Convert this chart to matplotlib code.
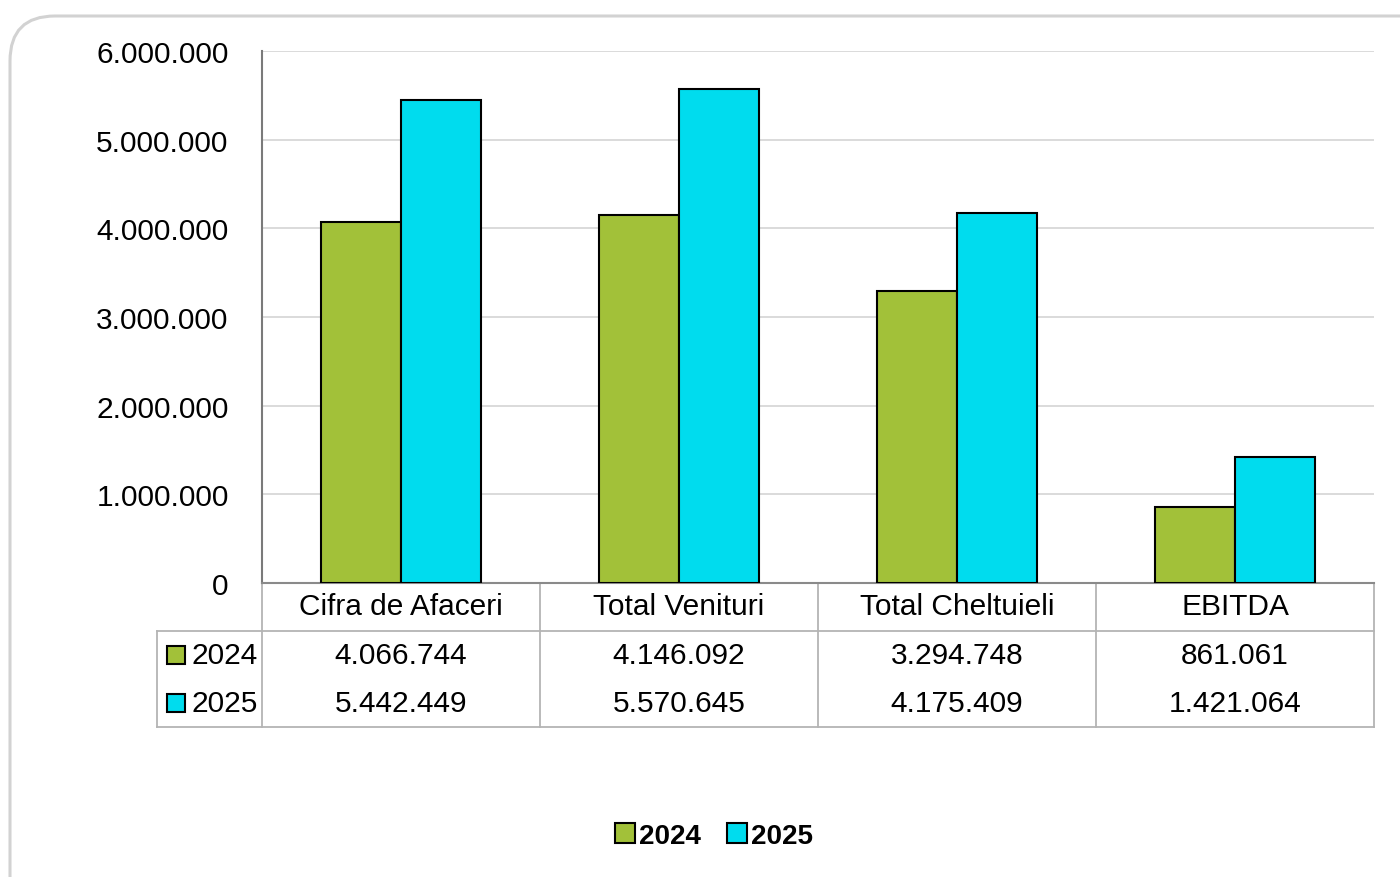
import matplotlib.pyplot as plt
from matplotlib.lines import Line2D
from matplotlib.patches import FancyBboxPatch

# date grafic
categorii = ['Cifra de Afaceri', 'Total Venituri', 'Total Cheltuieli', 'EBITDA']
ani = ['2024', '2025']
val_2024 = [4066744, 4146092, 3294748, 861061]
val_2025 = [5442449, 5570645, 4175409, 1421064]
yticks = [0, 1000000, 2000000, 3000000, 4000000, 5000000, 6000000]

culori = ['#a2c139', '#00dcee']
fs = 21.5

plt.rcParams['font.family'] = ['Liberation Sans', 'DejaVu Sans']


def fmt(v):
    return f'{v:,}'.replace(',', '.')


W, H = 1400, 878
fig = plt.figure(figsize=(14, 8.78), dpi=100)

# cadru cu colturi rotunjite
cadru = FancyBboxPatch((0.10, -1.0), 15.0, 9.61, boxstyle='round,pad=0,rounding_size=0.45',
                       transform=fig.dpi_scale_trans, facecolor='none',
                       edgecolor='#d2d2d2', linewidth=2.2, zorder=0)
fig.patches.append(cadru)

# zona de desen in pixeli
x0, x1, ytop, ybot = 262, 1374, 52, 584
ax = fig.add_axes([x0 / W, 1 - ybot / H, (x1 - x0) / W, (ybot - ytop) / H])
ax.set_facecolor('none')

n = len(categorii)
pos = [i + 0.5 for i in range(n)]
bw = 80 / 278
ax.bar([p - bw / 2 for p in pos], val_2024, bw, color=culori[0], edgecolor='black', linewidth=1.5, zorder=3)
ax.bar([p + bw / 2 for p in pos], val_2025, bw, color=culori[1], edgecolor='black', linewidth=1.5, zorder=3)

ax.set_xlim(0, n)
ax.set_ylim(0, 6000000)
ax.set_yticks(yticks)
ax.set_yticklabels([fmt(v) for v in yticks], fontsize=fs)
ax.tick_params(axis='y', length=0, pad=24)
ax.set_xticks([])
ax.grid(axis='y', color='#d8d8d8', linewidth=1.3, zorder=0)
for s in ['top', 'right']:
    ax.spines[s].set_visible(False)
ax.spines['left'].set_color('#7a7a7a')
ax.spines['left'].set_linewidth(1.5)
ax.spines['bottom'].set_color('#8a8a8a')
ax.spines['bottom'].set_linewidth(1.5)

# tabel de date sub grafic (coordonate axe)
ph = ybot - ytop
pw = x1 - x0


def ya(py):
    return -(py - ybot) / ph


def xa(px):
    return (px - x0) / pw


lc = '#b4b4b4'
lw = 1.3
kw = dict(transform=ax.transAxes, color=lc, linewidth=lw, clip_on=False)
ax.add_line(Line2D([xa(157), 1], [ya(632), ya(632)], **kw))
ax.add_line(Line2D([xa(157), 1], [ya(728), ya(728)], **kw))
ax.add_line(Line2D([xa(157), xa(157)], [ya(632), ya(728)], **kw))
for i in range(n + 1):
    ax.add_line(Line2D([i / n, i / n], [0, ya(728)], **kw))

for i, c in enumerate(categorii):
    xc = (i + 0.5) / n
    ax.text(xc, ya(607), c, transform=ax.transAxes, ha='center', va='center', fontsize=fs)
    ax.text(xc, ya(656), fmt(val_2024[i]), transform=ax.transAxes, ha='center', va='center', fontsize=fs)
    ax.text(xc, ya(704), fmt(val_2025[i]), transform=ax.transAxes, ha='center', va='center', fontsize=fs)

for j, (an, yy) in enumerate(zip(ani, [656, 704])):
    ax.add_line(Line2D([xa(176)], [ya(yy)], transform=ax.transAxes, marker='s', markersize=13,
                       markerfacecolor=culori[j], markeredgecolor='black', markeredgewidth=1.5,
                       linestyle='none', clip_on=False))
    ax.text(xa(258), ya(yy), an, transform=ax.transAxes, ha='right', va='center', fontsize=fs)

# legenda
handles = [Line2D([], [], marker='s', markersize=14, markerfacecolor=c, markeredgecolor='black',
                  markeredgewidth=1.5, linestyle='none') for c in culori]
fig.legend(handles, ani, loc='center', bbox_to_anchor=(712 / W, 1 - 837 / H), ncol=2,
           frameon=False, prop={'size': 20, 'weight': 'bold'}, handletextpad=0.0,
           columnspacing=0.8, handlelength=1.0)

fig.savefig('out.png', dpi=100)
